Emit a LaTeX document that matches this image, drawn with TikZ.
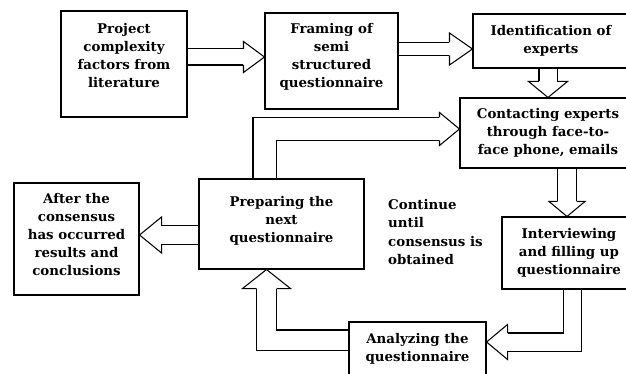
\documentclass[tikz,border=0pt]{standalone}
\usepackage{fontspec}
\setmainfont{DejaVu Serif}
\usepackage{tikz}
\usetikzlibrary{positioning,calc,backgrounds}
\tikzset{
  stage/.style={draw, line width=0.9pt, align=center, inner sep=2pt,
    font=\fontsize{11.4}{15.4}\selectfont\bfseries},
  note/.style={align=left, inner sep=0pt,
    font=\fontsize{11.4}{15.4}\selectfont\bfseries},
  shaft/.style={draw, line width=0.9pt, double, double distance=#1, line join=miter},
  pics/head/.style args={#1/#2/#3}{code={
    \draw[line width=0.9pt, line join=miter] (-#3,#1) -- (-#3,#2) -- (0,0) -- (-#3,-#2) -- (-#3,-#1);}}
}

\begin{document}
\begin{tikzpicture}[x=0.03cm, y=-0.03cm]
  \useasboundingbox (0,0) rectangle (626,374);
  % stages
  \node[stage, minimum width=3.78cm, minimum height=3.18cm] (proj) at (124,64) {Project\\complexity\\factors from\\literature\\[-1pt]\mbox{}};
  \node[stage, minimum width=3.99cm, minimum height=2.88cm] (frame) at (331.5,61) {Framing of\\semi\\structured\\questionnaire\\[-6pt]\mbox{}};
  \node[stage, minimum width=4.68cm, minimum height=1.62cm] (ident) at (551,41) {Identification of\\experts};
  \node[stage, minimum width=5.28cm, minimum height=2.1cm] (contact) at (548,133) {Contacting experts\\through face-to-\\face phone, emails};
  \node[stage, minimum width=4.02cm, minimum height=2.16cm] (interview) at (569,253) {Interviewing\\and filling up\\questionnaire};
  \node[stage, minimum width=4.11cm, minimum height=1.62cm] (analyze) at (417.5,349) {Analyzing the\\questionnaire};
  \node[stage, minimum width=4.95cm, minimum height=2.7cm] (prep) at (281.5,224) {Preparing the\\next\\questionnaire\\[-7pt]\mbox{}};
  \node[stage, minimum width=3.75cm, minimum height=3.36cm] (after) at (76.5,239) {After the\\consensus\\has occurred\\results and\\conclusions\\[-8pt]\mbox{}};
  \node[note, anchor=west] (loop) at (388,232) {Continue\\until\\consensus is\\obtained};

  % block arrows
  \begin{scope}[on background layer]
    \coordinate (t1) at ($(frame.west)+(0,-4)$);
    \draw[shaft=0.45cm] (proj.east |- t1) -- ($(t1)+(-21,0)$);
    \pic at (t1) {head=8/15.5/21};

    \coordinate (t2) at ($(ident.west)+(0,8)$);
    \draw[shaft=0.36cm] (frame.east |- t2) -- ($(t2)+(-23,0)$);
    \pic at (t2) {head=6.5/16/23};

    \coordinate (s3) at ($(ident.south)+(-3,0)$);
    \coordinate (t3) at (s3 |- contact.north);
    \draw[shaft=0.51cm] (s3) -- ($(t3)+(0,-16)$);
    \pic[rotate=-90] at (t3) {head=9/19.5/16};

    \coordinate (s4) at ($(prep.north)+(-17,0)$);
    \coordinate (t4) at ($(contact.west)+(0,-4)$);
    \draw[shaft=0.66cm] (s4) |- ($(t4)+(-20,0)$);
    \pic at (t4) {head=11.5/16.5/20};

    \coordinate (s5) at ($(contact.south)+(19,0)$);
    \coordinate (t5) at (s5 |- interview.north);
    \draw[shaft=0.54cm] (s5) -- ($(t5)+(0,-15)$);
    \pic[rotate=-90] at (t5) {head=9.5/18/15};

    \coordinate (s6) at ($(interview.south)+(3.5,0)$);
    \coordinate (t6) at ($(analyze.east)+(0,-7)$);
    \draw[shaft=0.51cm] (s6) |- ($(t6)+(21,0)$);
    \pic[rotate=180] at (t6) {head=9/17.5/21};

    \coordinate (s7) at ($(analyze.west)+(0,-9)$);
    \coordinate (t7) at ($(prep.south)+(-15,0)$);
    \draw[shaft=0.57cm] (s7) -| ($(t7)+(0,19)$);
    \pic[rotate=90] at (t7) {head=10/24/19};

    \coordinate (t8) at ($(after.east)+(0,-4)$);
    \draw[shaft=0.51cm] (prep.west |- t8) -- ($(t8)+(22,0)$);
    \pic[rotate=180] at (t8) {head=9/18/22};
  \end{scope}
\end{tikzpicture}
\end{document}
